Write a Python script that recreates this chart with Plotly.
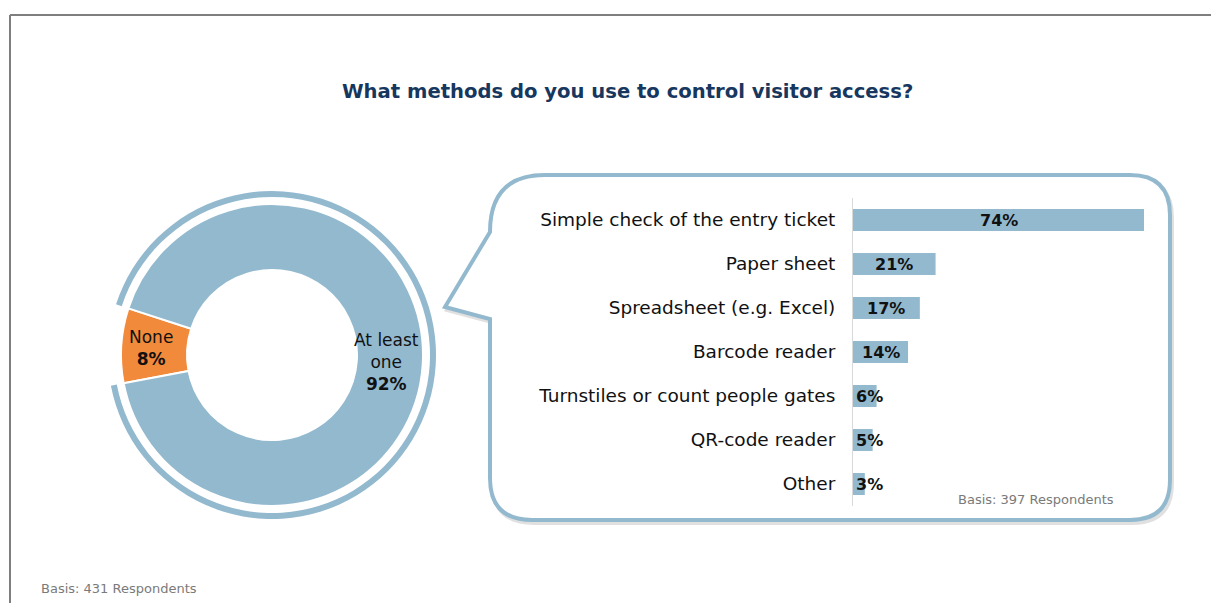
import math
import plotly.graph_objects as go

W, H = 1211, 603

# Donut: share of respondents using at least one method
pie_labels = ["None", "At least<br>one"]
pie_values = [8, 92]

# Bar chart: methods used (among those using at least one)
methods = [
    "Simple check of the entry ticket",
    "Paper sheet",
    "Spreadsheet (e.g. Excel)",
    "Barcode reader",
    "Turnstiles or count people gates",
    "QR-code reader",
    "Other",
]
shares = [74, 21, 17, 14, 6, 5, 3]

title_text = "What methods do you use to control visitor access?"
basis_bars = "Basis: 397 Respondents"
basis_pie = "Basis: 431 Respondents"

BLUE = "#93b9cf"
ORANGE = "#f28a3c"
NAVY = "#17375e"
FONT = "DejaVu Sans, sans-serif"


def px(x):
    return x / W


def py(y):
    return 1 - y / H


# donut geometry in pixels
cx, cy = 272, 355
r_out, r_in = 151, 85
r_ring_out, r_ring_in = 164, 158
start_deg = 162  # math angle where the "None" slice begins, going counterclockwise
total = sum(pie_values)
first_span = pie_values[0] / total * 360
# plotly places the first slice so that it ends at the rotation angle
rotation = 90 - (start_deg + first_span)

fig = go.Figure()

fig.add_trace(go.Pie(
    labels=pie_labels, values=pie_values, sort=False,
    direction="counterclockwise", rotation=rotation,
    hole=r_in / r_out,
    marker=dict(colors=[ORANGE, BLUE], line=dict(color="white", width=2)),
    textinfo="none", hoverinfo="label+value", showlegend=False,
    domain=dict(x=[px(cx - r_out), px(cx + r_out)],
                y=[py(cy + r_out), py(cy - r_out)]),
))

# thin outer arc around the "at least one" slice
fig.add_trace(go.Pie(
    labels=pie_labels, values=pie_values, sort=False,
    direction="counterclockwise", rotation=rotation,
    hole=r_ring_in / r_ring_out,
    marker=dict(colors=["rgba(0,0,0,0)", BLUE], line=dict(width=0)),
    textinfo="none", hoverinfo="skip", showlegend=False,
    domain=dict(x=[px(cx - r_ring_out), px(cx + r_ring_out)],
                y=[py(cy + r_ring_out), py(cy - r_ring_out)]),
))

# slice labels placed at each slice's mid-angle
annotations = []
acc = 0
r_mid = (r_out + r_in) / 2
for lab, v in zip(pie_labels, pie_values):
    mid = math.radians(start_deg + (acc + v / 2) / total * 360)
    acc += v
    annotations.append(dict(
        x=px(cx + r_mid * math.cos(mid)) - px(3), y=py(cy - r_mid * math.sin(mid)),
        xref="paper", yref="paper", showarrow=False,
        xanchor="center", yanchor="middle",
        text=f"{lab}<br><b>{v}%</b>",
        font=dict(family=FONT, size=17, color="#111111"),
        align="center",
    ))

fig.add_trace(go.Bar(
    x=shares, y=methods, orientation="h",
    marker=dict(color=BLUE, line=dict(width=0)),
    hoverinfo="x+y", showlegend=False, xaxis="x", yaxis="y",
))

# value labels on bars
for m, v in zip(methods, shares):
    if v >= 10:
        annotations.append(dict(x=v / 2, y=m, xref="x", yref="y", text=f"<b>{v}%</b>",
                                showarrow=False, xanchor="center", yanchor="middle",
                                font=dict(family=FONT, size=16, color="#111111")))
    else:
        annotations.append(dict(x=0, y=m, xref="x", yref="y", text=f"<b>{v}%</b>",
                                showarrow=False, xanchor="left", yanchor="middle", xshift=1,
                                font=dict(family=FONT, size=16, color="#111111")))

annotations += [
    dict(x=px(627), y=py(92), xref="paper", yref="paper", showarrow=False,
         xanchor="center", yanchor="middle",
         text=f"<b>{title_text}</b>", font=dict(family=FONT, size=19.6, color=NAVY)),
    dict(x=px(956), y=py(499), xref="paper", yref="paper", showarrow=False,
         xanchor="left", yanchor="middle",
         text=basis_bars, font=dict(family=FONT, size=13, color="#7a7a7a")),
    dict(x=px(39), y=py(588), xref="paper", yref="paper", showarrow=False,
         xanchor="left", yanchor="middle",
         text=basis_pie, font=dict(family=FONT, size=13, color="#7a7a7a")),
]


def path(points_cmds):
    out = []
    for cmd, pts in points_cmds:
        coords = " ".join(f"{px(x):.5f},{py(y):.5f}" for x, y in pts)
        out.append(f"{cmd}{coords}")
    return " ".join(out) + " Z"


def callout(dx=0, dy=0):
    s = lambda x, y: (x + dx, y + dy)
    return path([
        ("M", [s(445, 307)]),
        ("L", [s(490, 232)]),
        ("Q", [s(490, 175), s(545, 175)]),
        ("L", [s(1130, 175)]),
        ("Q", [s(1170, 175), s(1170, 215)]),
        ("L", [s(1170, 480)]),
        ("Q", [s(1170, 520), s(1130, 520)]),
        ("L", [s(532, 520)]),
        ("Q", [s(490, 520), s(490, 478)]),
        ("L", [s(490, 319)]),
    ])


shapes = [
    # outer frame
    dict(type="line", xref="paper", yref="paper", x0=px(10), y0=py(15), x1=1.01, y1=py(15),
         line=dict(color="#7f7f7f", width=2)),
    dict(type="line", xref="paper", yref="paper", x0=px(10), y0=py(15), x1=px(10), y1=-0.01,
         line=dict(color="#7f7f7f", width=2)),
    # callout shadow and outline
    dict(type="path", xref="paper", yref="paper", path=callout(2, 3),
         line=dict(color="rgba(0,0,0,0.12)", width=4), layer="below"),
    dict(type="path", xref="paper", yref="paper", path=callout(),
         line=dict(color=BLUE, width=4), fillcolor="white", layer="below"),
]

fig.update_layout(
    width=W, height=H, margin=dict(l=0, r=0, t=0, b=0),
    paper_bgcolor="white", plot_bgcolor="rgba(0,0,0,0)",
    font=dict(family=FONT),
    bargap=0.5,
    xaxis=dict(domain=[px(853), px(1144)], range=[0, 74], visible=False, fixedrange=True),
    yaxis=dict(domain=[py(506), py(198)], autorange="reversed",
               showline=True, linecolor="#d9d9d9", linewidth=1,
               showgrid=False, zeroline=False, ticks="", ticklabelstandoff=13,
               tickfont=dict(family=FONT, size=18.5, color="#111111"), fixedrange=True),
    annotations=annotations, shapes=shapes,
)

fig.write_html("out.html")
